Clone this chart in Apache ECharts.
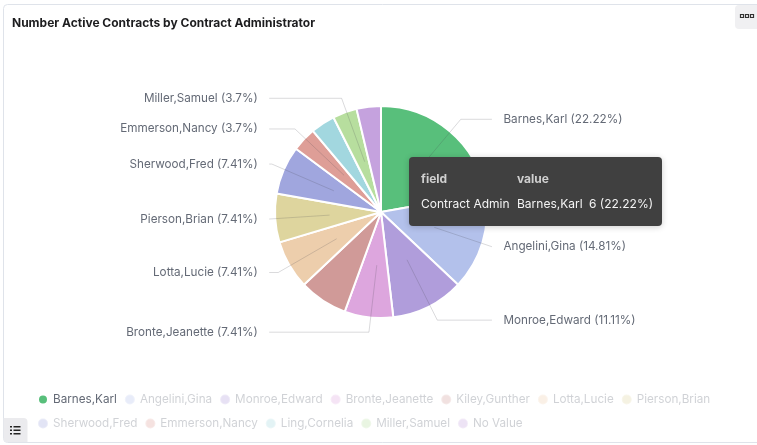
<!DOCTYPE html>
<html>
<head>
<meta charset="utf-8">
<script src="https://cdn.jsdelivr.net/npm/echarts@6/dist/echarts.min.js"></script>
<style>
html,body{margin:0;padding:0;background:#fff;}
#chart{width:757px;height:445px;}
</style>
</head>
<body>
<div id="chart"></div>
<script>
const chartTitle = 'Number Active Contracts by Contract Administrator';
const categories = ['Barnes,Karl','Angelini,Gina','Monroe,Edward','Bronte,Jeanette','Kiley,Gunther','Lotta,Lucie','Pierson,Brian','Sherwood,Fred','Emmerson,Nancy','Ling,Cornelia','Miller,Samuel','No Value'];
const counts = [6,4,3,2,2,2,2,2,1,1,1,1];
const colors = ['#58bf7b','#b3c1eb','#b09ddb','#dda6de','#d09a98','#edceac','#ded59e','#a0a6de','#de9e97','#a2d7df','#b7de9e','#c5a2de'];
const hiddenLabels = ['Kiley,Gunther','Ling,Cornelia','No Value'];
const hovered = 'Barnes,Karl';
const tooltipHeader = ['field','value'];
const tooltipField = 'Contract Admin';

const total = counts.reduce((a,b)=>a+b,0);
const pct = v => parseFloat((v/total*100).toFixed(2));
const font = 'Inter, "Noto Sans", sans-serif';
const labelColor = '#646a76';

const pieData = categories.map((c,i)=>({name:c,value:counts[i],itemStyle:{color:colors[i]}}));
const labelData = categories.map((c,i)=>({
  name:c, value:counts[i],
  label:{show: hiddenLabels.indexOf(c)<0},
  labelLine:{show: hiddenLabels.indexOf(c)<0}
}));
const legendData = categories.map((c,i)=> c===hovered ? {name:c} : {
  name:c, itemStyle:{opacity:0.3}, textStyle:{color:'rgba(100,106,118,0.3)'}
});

const hi = categories.indexOf(hovered);
const tipValue = categories[hi];
const tipNum = counts[hi] + ' (' + pct(counts[hi]).toFixed(2) + '%)';

const chart = echarts.init(document.getElementById('chart'), null, {renderer:'canvas'});
chart.setOption({
  animation:false,
  color: colors,
  title:{text:chartTitle,left:7,top:12,textStyle:{fontFamily:font,fontSize:12,fontWeight:'bold',color:'#1d1d1f'}},
  legend:{
    data:legendData, left:32, right:40, top:386, icon:'circle', itemWidth:10, itemHeight:10, itemGap:7,
    textStyle:{fontFamily:font,fontSize:11.7,lineHeight:17,color:labelColor}
  },
  graphic:[
    {type:'rect',z:-10,shape:{x:3.5,y:4.5,width:770,height:438,r:4},style:{fill:'none',stroke:'#dfe3ea',lineWidth:1}},
    {type:'rect',z:-5,shape:{x:735,y:5,width:30,height:24,r:4},style:{fill:'#f0f0f2'}},
    {type:'rect',shape:{x:740.5,y:14.5,width:3,height:3},style:{fill:'none',stroke:'#333',lineWidth:1.2}},
    {type:'rect',shape:{x:745.5,y:14.5,width:3,height:3},style:{fill:'none',stroke:'#333',lineWidth:1.2}},
    {type:'rect',shape:{x:750.5,y:14.5,width:3,height:3},style:{fill:'none',stroke:'#333',lineWidth:1.2}},
    {type:'rect',z:-5,shape:{x:3.5,y:418,width:24,height:24,r:[0,4,0,4]},style:{fill:'#ebebee'}},
    {type:'rect',shape:{x:10,y:426,width:2,height:1.5},style:{fill:'#222'}},
    {type:'rect',shape:{x:13.5,y:426,width:7,height:1.5},style:{fill:'#222'}},
    {type:'rect',shape:{x:10,y:429.5,width:2,height:1.5},style:{fill:'#222'}},
    {type:'rect',shape:{x:13.5,y:429.5,width:7,height:1.5},style:{fill:'#222'}},
    {type:'rect',shape:{x:10,y:433,width:2,height:1.5},style:{fill:'#222'}},
    {type:'rect',shape:{x:13.5,y:433,width:7,height:1.5},style:{fill:'#222'}},
    {type:'rect',z:100,shape:{x:409,y:157,width:253,height:69,r:4},style:{fill:'#404040',shadowBlur:6,shadowColor:'rgba(0,0,0,0.2)',shadowOffsetY:1}},
    {type:'text',z:101,style:{x:421,y:179,text:tooltipHeader[0],fill:'#cfcfcf',font:'bold 12px '+font,verticalAlign:'middle'}},
    {type:'text',z:101,style:{x:517,y:179,text:tooltipHeader[1],fill:'#cfcfcf',font:'bold 12px '+font,verticalAlign:'middle'}},
    {type:'text',z:101,style:{x:421,y:204,text:tooltipField,fill:'#f4f4f4',font:'12px '+font,verticalAlign:'middle'}},
    {type:'text',z:101,style:{x:517,y:204,text:tipValue,fill:'#f4f4f4',font:'12px '+font,verticalAlign:'middle'}},
    {type:'text',z:101,style:{x:589,y:204,text:tipNum,fill:'#f4f4f4',font:'12px '+font,verticalAlign:'middle'}}
  ],
  series:[
    {
      type:'pie', name:'pie', center:[381,212], radius:[0,106], startAngle:90, clockwise:true,
      data:pieData, z:2, silent:true,
      itemStyle:{borderColor:'#fff',borderWidth:2},
      label:{show:false}, labelLine:{show:false}
    },
    {
      type:'pie', name:'labels', center:[383,212], radius:[0,53.5], startAngle:90, clockwise:true,
      data:labelData, z:3, silent:true, avoidLabelOverlap:true,
      itemStyle:{color:'rgba(0,0,0,0)',borderWidth:0},
      label:{show:true,position:'outer',alignTo:'labelLine',distanceToLabelLine:11.5,
        fontFamily:font,fontSize:11.7,color:labelColor,
        formatter:p=>p.name+' ('+pct(p.value)+'%)'},
      labelLine:{show:true,length:67.5,length2:-7,lineStyle:{color:'rgba(70,70,80,0.2)',width:1}}
    }
  ]
});
</script>
</body>
</html>
